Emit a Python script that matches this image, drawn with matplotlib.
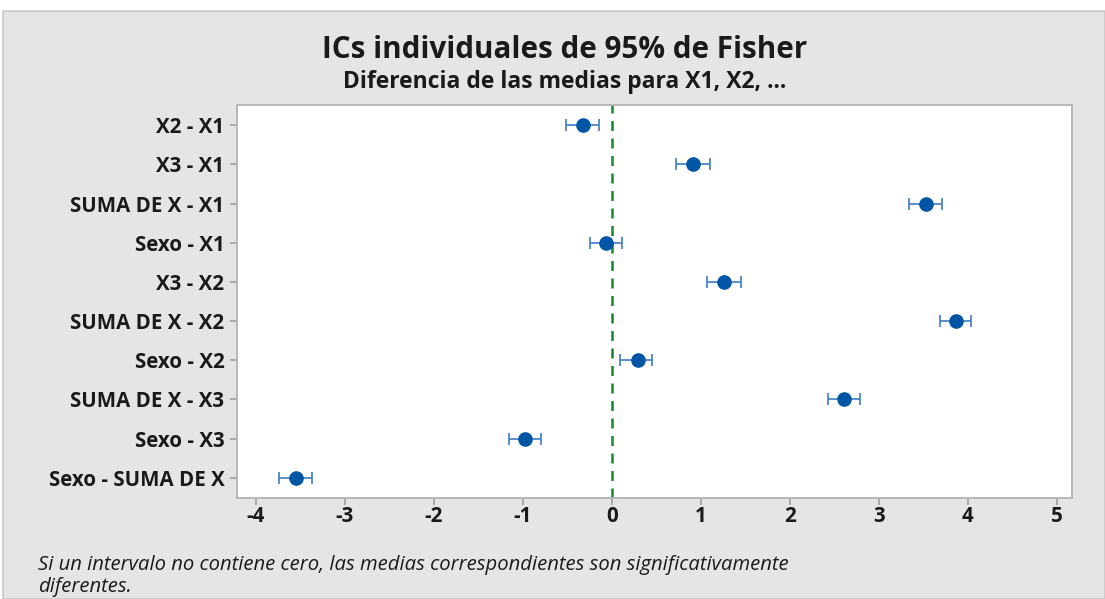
import matplotlib
matplotlib.use("Agg")
import matplotlib.pyplot as plt
from matplotlib.patches import Rectangle

# Datos: diferencias de medias e intervalos
comparaciones = ["X2 - X1", "X3 - X1", "SUMA DE X - X1", "Sexo - X1", "X3 - X2",
                 "SUMA DE X - X2", "Sexo - X2", "SUMA DE X - X3", "Sexo - X3",
                 "Sexo - SUMA DE X"]
diferencia = [-0.32, 0.91, 3.53, -0.06, 1.26, 3.87, 0.29, 2.61, -0.97, -3.55]
inferior = [-0.51, 0.72, 3.34, -0.25, 1.07, 3.69, 0.09, 2.43, -1.15, -3.74]
superior = [-0.14, 1.10, 3.71, 0.11, 1.45, 4.04, 0.45, 2.79, -0.80, -3.37]
xticks = [-4, -3, -2, -1, 0, 1, 2, 3, 4, 5]

plt.rcParams['font.family'] = ['Open Sans', 'DejaVu Sans']

fig = plt.figure(figsize=(11.05, 5.99), dpi=100)
fig.patch.set_facecolor('white')
# panel gris de fondo
fondo = Rectangle((3 / 1105, 0), 1 - 3 / 1105, 1 - 11 / 599,
                  transform=fig.transFigure, facecolor='#e5e5e5',
                  edgecolor='#c9c9c9', linewidth=1.2, zorder=-5)
fig.add_artist(fondo)

ax = fig.add_axes([237 / 1105, 1 - 498 / 599, (1072 - 237) / 1105, (498 - 105) / 599])
ax.set_zorder(2)
ax.set_facecolor('white')

y = list(range(1, len(comparaciones) + 1))
err_low = [d - lo for d, lo in zip(diferencia, inferior)]
err_high = [hi - d for d, hi in zip(diferencia, superior)]

ax.axvline(0, color='#118a2c', linestyle=(0, (4, 3)), linewidth=1.8, zorder=1)
ax.errorbar(diferencia, y, xerr=[err_low, err_high], fmt='none',
            ecolor='#3d7cc4', elinewidth=1.2, capsize=4, capthick=1.2, zorder=2)
ax.plot(diferencia, y, 'o', color='#0055a5', markersize=9.5, zorder=3)

ax.set_xlim(-4.21, 5.17)
ax.set_ylim(10.52, 0.48)
ax.set_xticks(xticks)
ax.set_xticklabels([str(t) for t in xticks])
ax.set_yticks(y)
ax.set_yticklabels(comparaciones)

for s in ax.spines.values():
    s.set_color('#b4b4b4')
    s.set_linewidth(1.3)
ax.tick_params(axis='both', direction='out', length=5, width=1.2, color='#a0a0a0',
               labelsize=14.8, labelcolor='#1a1a1a')
ax.tick_params(axis='y', pad=4)
ax.tick_params(axis='x', pad=1)
for lab in ax.get_xticklabels() + ax.get_yticklabels():
    lab.set_fontweight('bold')

fig.text(0.511, 1 - 50 / 599, "ICs individuales de 95% de Fisher", ha='center', va='center',
         fontsize=21.3, fontweight='bold', color='#1a1a1a')
fig.text(0.511, 1 - 82 / 599, "Diferencia de las medias para X1, X2, ...", ha='center',
         va='center', fontsize=16.5, fontweight='bold', color='#1a1a1a')

fig.text(38 / 1105, 1 - 565 / 599, "Si un intervalo no contiene cero, las medias correspondientes son significativamente",
         ha='left', va='center', fontsize=14.6, style='italic', color='#1a1a1a')
fig.text(38 / 1105, 1 - 587 / 599, "diferentes.",
         ha='left', va='center', fontsize=14.6, style='italic', color='#1a1a1a')

fig.savefig("out.png", dpi=100)
